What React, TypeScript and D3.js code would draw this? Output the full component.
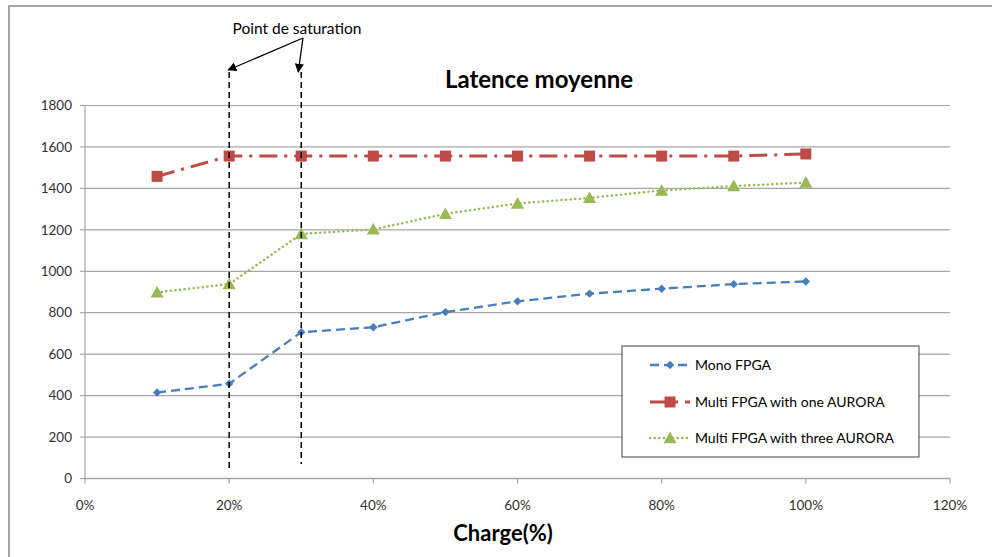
import React from "react";
import * as d3 from "d3";

const charges = [10, 20, 30, 40, 50, 60, 70, 80, 90, 100];
const monoFPGA = [415, 457, 706, 730, 803, 855, 892, 916, 938, 951];
const multiOneAurora = [1458, 1556, 1556, 1556, 1556, 1556, 1556, 1556, 1556, 1566];
const multiThreeAurora = [898, 938, 1180, 1202, 1277, 1327, 1354, 1390, 1411, 1428];
const xTicks = [0, 20, 40, 60, 80, 100, 120];
const yTicks = [0, 200, 400, 600, 800, 1000, 1200, 1400, 1600, 1800];
const saturationPoints = [20, 30];
const seriesNames = ["Mono FPGA", "Multi FPGA with one AURORA", "Multi FPGA with three AURORA"];
const title = "Latence moyenne";
const xLabel = "Charge(%)";
const annotation = "Point de saturation";

const FONT = "Lato, 'Open Sans', sans-serif";

export default function App() {
  const x = d3.scaleLinear().domain([0, 120]).range([85, 950]);
  const y = d3.scaleLinear().domain([0, 1800]).range([478.5, 105.5]);

  const line = d3
    .line<number>()
    .x((_, i) => x(charges[i]))
    .y((v) => y(v));

  const series = [
    { name: seriesNames[0], values: monoFPGA, color: "#4A7EBB", width: 2.3, dash: "9 5", cap: "butt", marker: "diamond" },
    { name: seriesNames[1], values: multiOneAurora, color: "#BE4B48", width: 3, dash: "18 7 3 7", cap: "butt", marker: "square" },
    { name: seriesNames[2], values: multiThreeAurora, color: "#98B954", width: 2.5, dash: "0.1 4.5", cap: "round", marker: "triangle" },
  ];

  const marker = (type: string, cx: number, cy: number, color: string, key: any) => {
    if (type === "diamond") {
      const s = 4.2;
      return <path key={key} d={`M${cx},${cy - s}L${cx + s},${cy}L${cx},${cy + s}L${cx - s},${cy}Z`} fill={color} />;
    }
    if (type === "square") {
      const s = 5.5;
      return <rect key={key} x={cx - s} y={cy - s} width={2 * s} height={2 * s} fill={color} />;
    }
    const s = 6.5;
    return <path key={key} d={`M${cx},${cy - s}L${cx + s},${cy + s * 0.8}L${cx - s},${cy + s * 0.8}Z`} fill={color} />;
  };

  const legendX = 622;
  const legendY = 346;
  const rowYs = [365, 402, 438];

  return (
    <svg
      width={992}
      height={557}
      style={{ position: "absolute", left: 0, top: 0, background: "#fff" }}
      fontFamily={FONT}
    >
      <defs>
        <marker id="arrow" viewBox="0 0 10 10" refX="9" refY="5" markerWidth="7" markerHeight="7" orient="auto-start-reverse">
          <path d="M0,0L10,5L0,10Z" fill="#000" />
        </marker>
      </defs>
      {/* outer border */}
      <path d="M9,560V6H992" fill="none" stroke="#a6a6a6" strokeWidth={2} />

      {/* title */}
      <text x={539} y={88} textAnchor="middle" fontSize={24} fontWeight="bold" fill="#000">
        {title}
      </text>

      {/* gridlines */}
      {yTicks.map((t) => (
        <line key={"g" + t} x1={x(0)} x2={x(120)} y1={y(t)} y2={y(t)} stroke="#a6a6a6" strokeWidth={1.2} />
      ))}
      {/* y axis */}
      <line x1={x(0)} x2={x(0)} y1={y(1800)} y2={y(0)} stroke="#a6a6a6" strokeWidth={1.2} />
      {yTicks.map((t) => (
        <g key={"yt" + t}>
          <line x1={x(0) - 5} x2={x(0)} y1={y(t)} y2={y(t)} stroke="#a6a6a6" strokeWidth={1.2} />
          <text x={72} y={y(t)} dy="0.35em" textAnchor="end" fontSize={13.5} fill="#333">
            {t}
          </text>
        </g>
      ))}
      {/* x axis */}
      <line x1={x(0)} x2={x(120)} y1={y(0)} y2={y(0)} stroke="#a6a6a6" strokeWidth={1.5} />
      {xTicks.map((t) => (
        <g key={"xt" + t}>
          <line x1={x(t)} x2={x(t)} y1={y(0)} y2={y(0) + 5} stroke="#a6a6a6" strokeWidth={1.2} />
          <text x={x(t)} y={505} dy="0.35em" textAnchor="middle" fontSize={13.5} fill="#333">
            {t + "%"}
          </text>
        </g>
      ))}
      <text x={503} y={533} dy="0.35em" textAnchor="middle" fontSize={22} fontWeight="bold" fill="#000">
        {xLabel}
      </text>

      {/* series */}
      {series.map((s) => (
        <g key={s.name}>
          <path
            d={line(s.values) || ""}
            fill="none"
            stroke={s.color}
            strokeWidth={s.width}
            strokeDasharray={s.dash}
            strokeLinecap={s.cap as any}
          />
          {s.values.map((v, i) => marker(s.marker, x(charges[i]), y(v), s.color, i))}
        </g>
      ))}

      {/* saturation lines */}
      {saturationPoints.map((p, i) => (
        <line
          key={"sat" + p}
          x1={x(p)}
          x2={x(p)}
          y1={72}
          y2={i === 0 ? 470 : 464}
          stroke="#000"
          strokeWidth={1.5}
          strokeDasharray="6 4"
        />
      ))}
      <text x={297} y={29} dy="0.35em" textAnchor="middle" fontSize={15.5} fill="#000">
        {annotation}
      </text>
      <line x1={303} y1={38} x2={x(saturationPoints[0]) - 1} y2={70} stroke="#000" strokeWidth={1.3} markerEnd="url(#arrow)" />
      <line x1={303} y1={38} x2={x(saturationPoints[1]) - 3} y2={72} stroke="#000" strokeWidth={1.3} markerEnd="url(#arrow)" />

      {/* legend */}
      <rect x={legendX} y={legendY} width={297} height={111} fill="#fff" stroke="#404040" strokeWidth={1} />
      {series.map((s, i) => (
        <g key={"lg" + s.name}>
          <line
            x1={650}
            x2={690}
            y1={rowYs[i]}
            y2={rowYs[i]}
            stroke={s.color}
            strokeWidth={s.width}
            strokeDasharray={s.dash}
            strokeLinecap={s.cap as any}
          />
          {marker(s.marker, 670, rowYs[i], s.color, "m")}
          <text x={695} y={rowYs[i]} dy="0.35em" fontSize={14} fill="#000">
            {s.name}
          </text>
        </g>
      ))}
    </svg>
  );
}
